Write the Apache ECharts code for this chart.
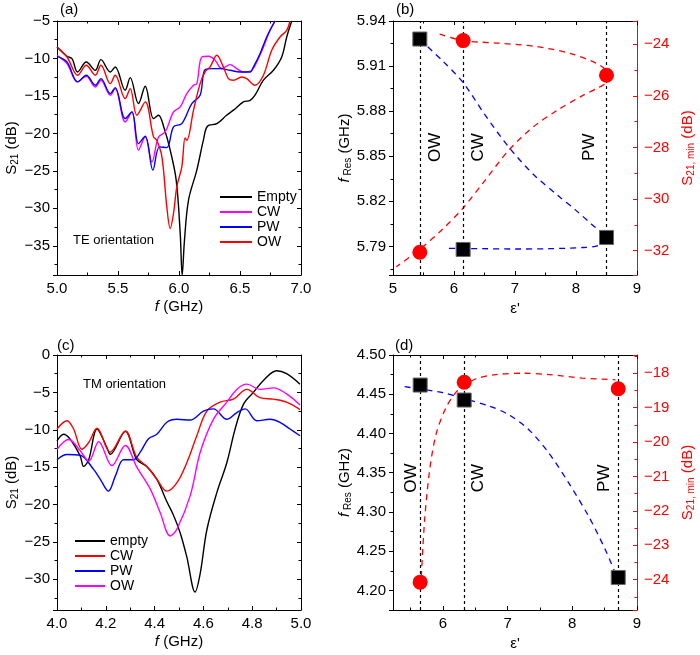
<!DOCTYPE html>
<html>
<head>
<meta charset="utf-8">
<script src="https://cdn.jsdelivr.net/npm/echarts@6/dist/echarts.min.js"></script>
<style>
  html, body { margin: 0; background: #fff; }
  #chart { width: 700px; height: 655px; }
</style>
</head>
<body>
<div id="chart"></div>
<script>
// (a) TE orientation spectra, [f GHz, S21 dB]
const teEmpty = [[5.0,-8.47],[5.082,-9.71],[5.123,-10.02],[5.169,-11.8],[5.24,-10.47],[5.314,-11.58],[5.36,-10.16],[5.437,-11.8],[5.477,-11.13],[5.559,-14.24],[5.6,-12.56],[5.668,-16.02],[5.723,-13.71],[5.791,-18.02],[5.832,-17.58],[5.879,-19.36],[5.928,-22.24],[5.977,-26.24],[6.01,-33.36],[6.026,-38.9],[6.045,-34.24],[6.078,-28.9],[6.146,-24.9],[6.2,-20.9],[6.233,-19.04],[6.31,-18.7],[6.39,-17.58],[6.446,-16.9],[6.528,-15.8],[6.583,-15.58],[6.623,-14.9],[6.692,-12.9],[6.774,-11.58],[6.842,-9.8],[6.883,-7.13],[6.924,-5.0]];
const teCW = [[5.0,-9.58],[5.082,-10.69],[5.169,-13.13],[5.24,-12.38],[5.314,-13.8],[5.36,-12.9],[5.437,-14.9],[5.477,-14.0],[5.559,-18.47],[5.614,-17.13],[5.668,-22.24],[5.723,-20.47],[5.778,-23.8],[5.832,-20.47],[5.887,-19.8],[5.955,-17.13],[6.01,-16.47],[6.064,-14.69],[6.119,-13.58],[6.146,-13.36],[6.187,-9.8],[6.241,-9.71],[6.296,-10.24],[6.35,-11.36],[6.419,-10.82],[6.473,-11.36],[6.528,-11.8],[6.596,-11.58],[6.637,-10.47],[6.692,-8.47],[6.746,-6.24],[6.787,-5.0]];
const tePW = [[5.0,-9.71],[5.082,-10.47],[5.169,-13.13],[5.24,-12.24],[5.314,-13.58],[5.36,-12.69],[5.437,-14.69],[5.477,-13.89],[5.559,-18.02],[5.614,-17.13],[5.668,-21.36],[5.723,-20.38],[5.786,-24.9],[5.84,-21.8],[5.9,-21.9],[5.955,-19.13],[6.023,-18.69],[6.105,-16.02],[6.173,-14.91],[6.214,-11.49],[6.282,-11.36],[6.337,-11.36],[6.419,-11.58],[6.5,-11.8],[6.583,-11.8],[6.61,-11.13],[6.664,-9.36],[6.719,-7.13],[6.787,-5.0]];
const teOW = [[5.0,-8.47],[5.082,-9.8],[5.169,-12.24],[5.24,-10.91],[5.314,-12.24],[5.36,-10.91],[5.437,-13.36],[5.477,-12.24],[5.559,-15.36],[5.6,-14.02],[5.655,-17.58],[5.723,-15.8],[5.791,-20.47],[5.818,-20.91],[5.86,-23.13],[5.9,-29.8],[5.928,-32.69],[5.955,-30.69],[5.982,-27.13],[6.023,-24.47],[6.05,-20.6],[6.064,-20.91],[6.119,-16.9],[6.173,-13.36],[6.214,-11.8],[6.255,-11.13],[6.31,-9.58],[6.364,-11.13],[6.405,-12.69],[6.446,-12.9],[6.514,-12.47],[6.555,-12.69],[6.623,-13.58],[6.692,-12.24],[6.76,-8.9],[6.828,-7.13],[6.883,-6.24],[6.91,-5.0]];

// (b) TE resonance vs permittivity
const teEps = [5.44, 6.15, 8.50];
const teNames = ['OW', 'CW', 'PW'];
const teFres = [5.928, 5.788, 5.796];
const teSmin = [-32.06, -23.86, -25.2];
const teFresFit = [[5.437,5.9277],[5.8,5.914],[6.15,5.899],[6.5,5.878],[6.9,5.856],[7.3,5.838],[7.7,5.824],[8.0,5.814],[8.25,5.805],[8.42,5.799],[8.5,5.795],[8.36,5.7905],[8.115,5.7893],[7.568,5.7885],[7.022,5.7883],[6.475,5.7885],[5.874,5.7887]];
const teSminFit = [[5.765,-23.61],[6.148,-23.86],[6.749,-23.96],[7.35,-24.09],[7.896,-24.35],[8.333,-24.74],[8.497,-25.06],[8.497,-25.45],[8.35,-25.7],[8.1,-26.0],[7.7,-26.55],[7.3,-27.2],[6.9,-28.1],[6.5,-29.3],[6.148,-30.35],[5.82,-31.15],[5.437,-31.95],[5.055,-32.62]];

// (c) TM orientation spectra
const tmEmpty = [[4.0,-11.5],[4.027,-10.6],[4.055,-11.3],[4.095,-13.5],[4.109,-14.9],[4.13,-14.0],[4.164,-9.9],[4.205,-12.4],[4.218,-13.3],[4.28,-10.2],[4.327,-14.0],[4.368,-14.9],[4.409,-16.6],[4.45,-19.6],[4.477,-21.4],[4.505,-23.8],[4.532,-27.0],[4.566,-31.7],[4.587,-29.2],[4.614,-23.4],[4.655,-18.4],[4.696,-14.4],[4.73,-9.9],[4.764,-6.6],[4.805,-5.0],[4.846,-3.4],[4.9,-2.1],[4.941,-2.5],[4.996,-3.9]];
const tmCW = [[4.0,-9.9],[4.041,-8.8],[4.068,-9.9],[4.102,-12.6],[4.13,-11.7],[4.164,-9.8],[4.218,-13.0],[4.28,-10.2],[4.327,-13.7],[4.368,-14.9],[4.409,-16.6],[4.45,-18.2],[4.491,-17.1],[4.532,-14.4],[4.573,-10.8],[4.614,-7.5],[4.668,-6.3],[4.723,-5.9],[4.778,-4.6],[4.832,-5.7],[4.887,-5.9],[4.941,-6.3],[4.996,-7.3]];
const tmPW = [[4.0,-14.0],[4.041,-13.3],[4.095,-13.4],[4.15,-15.3],[4.177,-16.6],[4.211,-18.2],[4.239,-16.2],[4.273,-14.0],[4.314,-14.0],[4.341,-13.0],[4.375,-11.2],[4.409,-10.6],[4.45,-9.0],[4.491,-8.6],[4.546,-8.7],[4.6,-7.5],[4.641,-7.2],[4.696,-8.6],[4.737,-7.7],[4.771,-7.2],[4.819,-8.8],[4.873,-8.6],[4.914,-9.0],[4.955,-9.9],[4.996,-10.8]];
const tmOW = [[4.0,-12.6],[4.048,-11.3],[4.095,-12.8],[4.13,-14.2],[4.171,-11.6],[4.225,-14.8],[4.28,-12.1],[4.327,-15.0],[4.382,-17.9],[4.423,-21.1],[4.464,-24.2],[4.491,-23.3],[4.546,-18.8],[4.587,-13.0],[4.641,-8.6],[4.696,-6.3],[4.737,-4.6],[4.778,-3.9],[4.832,-4.6],[4.887,-4.4],[4.941,-5.2],[4.996,-6.7]];

// (d) TM resonance vs permittivity
const tmEps = [5.65, 6.33, 8.71];
const tmNames = ['OW', 'CW', 'PW'];
const tmFres = [4.4617, 4.4426, 4.2165];
const tmSmin = [-24.07, -18.26, -18.45];
const tmFresFit = [[5.41,4.4596],[6.0,4.452],[6.333,4.4443],[6.718,4.435],[7.026,4.4235],[7.333,4.4044],[7.641,4.3746],[7.949,4.3364],[8.256,4.2939],[8.513,4.2514],[8.667,4.2216]];
const tmSminFit = [[5.667,-23.92],[5.718,-22.28],[5.795,-20.83],[5.897,-19.76],[6.051,-18.99],[6.205,-18.55],[6.333,-18.36],[6.513,-18.16],[6.82,-18.04],[7.23,-18.0],[7.64,-18.04],[8.154,-18.14],[8.667,-18.19]];

const FONT = '"Liberation Sans", Arial, sans-serif';
const RED = '#ff0000';
const BLUE = '#0000ff';
const MAGENTA = '#ff00ff';

const minus = (s) => String(s).replace('-', '\u2212');
function tickFormatter(step, digits) {
  return (v) => {
    const k = v / step;
    if (Math.abs(k - Math.round(k)) > 1e-6) return '';
    return minus(v.toFixed(digits));
  };
}

const rich = {
  i: { fontStyle: 'italic', fontSize: 15, fontFamily: FONT },
  sub: { fontSize: 10, fontFamily: FONT, padding: [7, 0, 0, 0] },
  subr: { fontSize: 10, fontFamily: FONT, padding: [7, 0, 0, 0], color: RED }
};

// main axis with labels; ticks sit on multiples of step even if min is not one
function mainAxis(gridIndex, position, min, max, step, digits, extra) {
  const color = (extra && extra.color) || '#000';
  const vertical = position === 'left' || position === 'right';
  return Object.assign({
    type: 'value', gridIndex, position, min, max,
    minInterval: step, maxInterval: step,
    splitLine: { show: false },
    axisLine: { show: true, onZero: false, lineStyle: { color, width: 1 } },
    axisTick: { show: true, inside: !vertical || position === 'right', length: 4, lineStyle: { color } },
    minorTick: { show: true, splitNumber: 2, length: 2.5, lineStyle: { color } },
    axisLabel: { color, fontSize: 15, fontFamily: FONT, margin: vertical ? 7 : 6, formatter: tickFormatter(step, digits) },
    nameLocation: 'middle',
    nameTextStyle: { color, fontSize: 15, fontFamily: FONT, rich }
  }, extra || {});
}

// mirrored frame axis, ticks only
function mirrorAxis(gridIndex, position, min, max, step) {
  return {
    type: 'value', gridIndex, position, min, max,
    minInterval: step, maxInterval: step,
    splitLine: { show: false },
    axisLine: { show: true, onZero: false, lineStyle: { color: '#000', width: 1 } },
    axisTick: { show: true, inside: true, length: 4 },
    minorTick: { show: true, splitNumber: 2, length: 2.5 },
    axisLabel: { show: false }
  };
}

const xAxis = [
  mainAxis(0, 'bottom', 5, 7, 0.5, 1, { name: '{i|f} (GHz)', nameGap: 24 }),
  mirrorAxis(0, 'top', 5, 7, 0.5),
  mainAxis(1, 'bottom', 5, 9, 1, 0, { name: "\u03b5'", nameGap: 26 }),
  mirrorAxis(1, 'top', 5, 9, 1),
  mainAxis(2, 'bottom', 4, 5, 0.2, 1, { name: '{i|f} (GHz)', nameGap: 24 }),
  mirrorAxis(2, 'top', 4, 5, 0.2),
  mainAxis(3, 'bottom', 5.23, 9, 1, 0, { name: "\u03b5'", nameGap: 26 }),
  mirrorAxis(3, 'top', 5.23, 9, 1)
];

const yAxis = [
  mainAxis(0, 'left', -38.9, -5, 5, 0, { name: 'S{sub|21} (dB)', nameGap: 34 }),
  mirrorAxis(0, 'right', -38.9, -5, 5),
  mainAxis(1, 'left', 5.771, 5.94, 0.03, 2, { name: '{i|f}{sub| Res} (GHz)', nameGap: 40 }),
  mainAxis(1, 'right', -32.94, -23.1, 2, 0, { color: RED, name: 'S{subr|21, min} (dB)', nameGap: 42 }),
  mainAxis(2, 'left', -34.1, 0, 5, 0, { name: 'S{sub|21} (dB)', nameGap: 34 }),
  mirrorAxis(2, 'right', -34.1, 0, 5),
  mainAxis(3, 'left', 4.175, 4.5, 0.05, 2, { name: '{i|f}{sub| Res} (GHz)', nameGap: 40 }),
  mainAxis(3, 'right', -24.88, -17.47, 1, 0, { color: RED, name: 'S{subr|21, min} (dB)', nameGap: 42 })
];

function spectrum(name, data, color, axisIndex) {
  return {
    name, type: 'line', data, xAxisIndex: axisIndex, yAxisIndex: axisIndex,
    color, showSymbol: false, smooth: 0.35, clip: true,
    lineStyle: { color, width: 1.4 }, z: 3
  };
}

function fitLine(data, color, xi, yi) {
  return {
    type: 'line', data, xAxisIndex: xi, yAxisIndex: yi,
    showSymbol: false, smooth: 0.3, silent: true,
    lineStyle: { color, width: 1.3, type: [6, 5] }, z: 2
  };
}

function markers(eps, vals, xi, yi, shape) {
  const square = shape === 'square';
  return {
    type: 'scatter', xAxisIndex: xi, yAxisIndex: yi,
    data: eps.map((e, k) => [e, vals[k]]),
    symbol: square ? 'rect' : 'circle', symbolSize: square ? 14 : 15,
    itemStyle: square
      ? { color: '#000', borderColor: '#666', borderWidth: 1, opacity: 1 }
      : { color: RED, opacity: 1 },
    z: 5
  };
}

// dashed guide at each sample's permittivity, with its rotated name beside it
function guides(eps, names, xi, yi, labelY, sides) {
  return {
    type: 'scatter', xAxisIndex: xi, yAxisIndex: yi, symbolSize: 0, silent: true,
    itemStyle: { opacity: 1 },
    data: eps.map((e, k) => ({
      value: [e, labelY], name: names[k],
      label: { position: sides[k][0], distance: sides[k][1] }
    })),
    label: {
      show: true, rotate: 90, align: 'center', verticalAlign: 'middle',
      formatter: (p) => p.name, fontSize: 17, fontFamily: FONT, color: '#000',
      textBorderWidth: 0, opacity: 1
    },
    markLine: {
      silent: true, symbol: 'none', label: { show: false },
      lineStyle: { color: '#000', type: [3, 3], width: 1.2, opacity: 1 },
      data: eps.map((e) => ({ xAxis: e }))
    },
    z: 1
  };
}

const series = [
  spectrum('Empty', teEmpty, '#000', 0),
  spectrum('CW_a', teCW, MAGENTA, 0),
  spectrum('PW_a', tePW, BLUE, 0),
  spectrum('OW_a', teOW, RED, 0),
  guides(teEps, teNames, 2, 2, 5.856, [['right', 15], ['right', 15], ['left', 17]]),
  fitLine(teFresFit, BLUE, 2, 2),
  fitLine(teSminFit, RED, 2, 3),
  markers(teEps, teFres, 2, 2, 'square'),
  markers(teEps, teSmin, 2, 3, 'circle'),
  spectrum('empty', tmEmpty, '#000', 4),
  spectrum('CW_c', tmCW, RED, 4),
  spectrum('PW_c', tmPW, BLUE, 4),
  spectrum('OW_c', tmOW, MAGENTA, 4),
  guides(tmEps, tmNames, 6, 6, 4.343, [['left', 9], ['right', 14], ['left', 14]]),
  fitLine(tmFresFit, BLUE, 6, 6),
  fitLine(tmSminFit, RED, 6, 7),
  markers(tmEps, tmFres, 6, 6, 'square'),
  markers(tmEps, tmSmin, 6, 7, 'circle')
];

function legend(names, left, top, width) {
  return {
    data: names, left, top, orient: 'vertical', icon: 'rect',
    itemWidth: width, itemHeight: 2, itemGap: 1, selectedMode: false,
    formatter: (n) => n.split('_')[0],
    textStyle: { fontSize: 14, fontFamily: FONT, color: '#000', lineHeight: 14 }
  };
}

function label(text, left, top, size) {
  return { type: 'text', left, top, style: { text, fontSize: size, fontFamily: FONT, fill: '#000' } };
}

const chart = echarts.init(document.getElementById('chart'), null, { renderer: 'canvas' });
chart.setOption({
  backgroundColor: '#fff',
  animation: false,
  grid: [
    { left: 57, top: 21, width: 244, height: 254 },
    { left: 393, top: 21, width: 244, height: 254 },
    { left: 57, top: 355, width: 244, height: 255 },
    { left: 393, top: 355, width: 244, height: 255 }
  ],
  xAxis, yAxis, series,
  legend: [
    legend(['Empty', 'CW_a', 'PW_a', 'OW_a'], 215, 185, 32),
    legend(['empty', 'CW_c', 'PW_c', 'OW_c'], 70, 529, 30)
  ],
  graphic: [
    label('(a)', 60, 2, 15),
    label('(b)', 396, 2, 15),
    label('(c)', 57, 338, 15),
    label('(d)', 395, 338, 15),
    label('TE orientation', 73, 234, 13),
    label('TM orientation', 83, 378, 13)
  ]
});
</script>
</body>
</html>
